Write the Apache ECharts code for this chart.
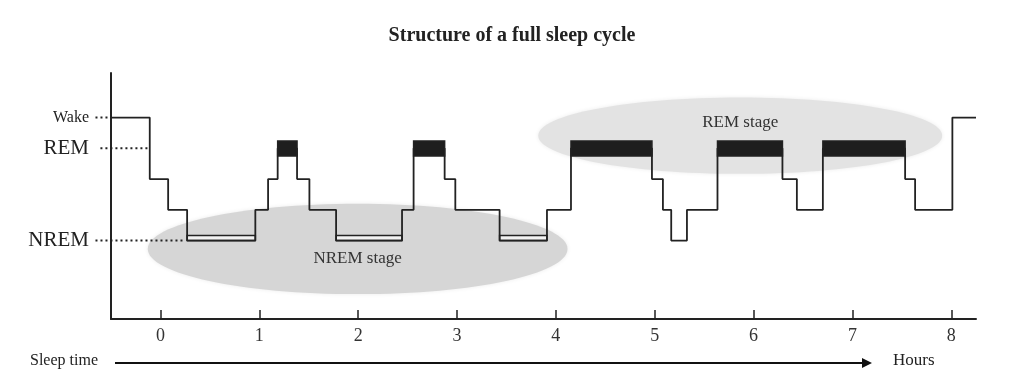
<!DOCTYPE html>
<html><head><meta charset="utf-8">
<script src="https://cdn.jsdelivr.net/npm/echarts@6/dist/echarts.min.js"></script>
<style>html,body{margin:0;padding:0;background:#fff}#c{width:1024px;height:386px}</style>
</head><body><div id="c"></div>
<script>
// Stage levels: 0 = N3 (deep NREM), 1 = N2, 2 = N1, 3 = REM, 4 = Wake
const stageNames = ['N3', 'N2', 'N1', 'REM', 'Wake'];
const hourTicks = [0, 1, 2, 3, 4, 5, 6, 7, 8];
const yLabelLevels = [0, 3, 4];
const yLabelTexts = ['NREM', 'REM', 'Wake'];
// start time (hours) of each hypnogram segment
const segmentStart = [-0.5, -0.108, 0.078, 0.27, 0.96, 1.089, 1.186, 1.382, 1.507, 1.777,
  2.444, 2.561, 2.875, 2.983, 3.431, 3.910, 4.153, 4.972, 5.083, 5.167,
  5.326, 5.635, 6.292, 6.438, 6.701, 7.533, 7.634, 8.011, 8.25];
// stage level of each segment
const segmentLevel = [4, 2, 1, 0, 1, 2, 3, 2, 1, 0,
  1, 3, 2, 1, 0, 1, 3, 2, 1, 0,
  1, 3, 2, 1, 3, 2, 1, 4, 4];
// deep-sleep periods drawn with the double line
const deepBandStart = [0.27, 1.777, 3.431];
const deepBandEnd = [0.96, 2.444, 3.910];
// shaded stage regions: labels, centre (hours, level), radii (hours, levels)
const regionLabels = ['NREM stage', 'REM stage'];
const regionCenter = [[1.995, -0.27], [5.865, 3.41]];
const regionRadius = [[2.123, 1.47], [2.043, 1.24]];

const SERIF = '"Liberation Serif", "DejaVu Serif", serif';
const INK = '#222';

const stepData = segmentStart.map((t, i) => [t, segmentLevel[i]]);
const remBands = [];
for (let i = 0; i < segmentStart.length - 1; i++) {
  if (segmentLevel[i] === 3) remBands.push([segmentStart[i], segmentStart[i + 1]]);
}
const deepBands = deepBandStart.map((s, i) => [s, deepBandEnd[i]]);
const regions = regionLabels.map((n, i) => [regionCenter[i][0], regionCenter[i][1], regionRadius[i][0], regionRadius[i][1], i]);
// dotted guide lines from the level labels: [fromHour, toHour, level]
const guides = [[-0.657, -0.5, 4], [-0.607, -0.121, 3], [-0.657, 0.253, 0]];

const chart = echarts.init(document.getElementById('c'), null, {renderer: 'canvas'});
chart.setOption({
  backgroundColor: '#ffffff',
  animation: false,
  title: {
    text: 'Structure of a full sleep cycle', left: 'center', top: 21,
    textStyle: {fontFamily: SERIF, fontWeight: 'bold', fontSize: 20, color: INK}
  },
  grid: {left: 111, top: 73, width: 865, height: 246},
  xAxis: {
    type: 'value', min: -0.5, max: 8.25,
    axisLine: {show: true, onZero: false, lineStyle: {color: INK, width: 2}},
    axisTick: {show: true, inside: true, length: 9, customValues: hourTicks, lineStyle: {color: INK, width: 1.5}},
    axisLabel: {customValues: hourTicks, fontFamily: SERIF, fontSize: 18, color: '#333', margin: 8},
    splitLine: {show: false}
  },
  yAxis: {
    type: 'value', min: -2.55, max: 5.45,
    axisLine: {show: true, onZero: false, lineStyle: {color: INK, width: 2}},
    axisTick: {show: false},
    splitLine: {show: false},
    axisLabel: {
      customValues: yLabelLevels, margin: 22,
      formatter: v => {
        const t = yLabelTexts[yLabelLevels.indexOf(Math.round(v))];
        return Math.round(v) === 4 ? '{s|' + t + '}' : '{b|' + t + '}';
      },
      rich: {
        s: {fontFamily: SERIF, fontSize: 16, color: INK},
        b: {fontFamily: SERIF, fontSize: 21, color: INK}
      }
    }
  },
  series: [
    {
      type: 'custom', name: 'regions', z: 1, clip: false,
      data: regions,
      renderItem: (params, api) => {
        const c = api.coord([api.value(0), api.value(1)]);
        const s = api.size([api.value(2), api.value(3)]);
        const idx = api.value(4);
        const fill = idx === 0 ? '#d6d6d6' : '#e3e3e3';
        return {type: 'ellipse', shape: {cx: c[0], cy: c[1], rx: s[0], ry: s[1]},
          style: {fill: fill, shadowBlur: 4, shadowColor: 'rgba(0,0,0,0.08)'}};
      }
    },
    {
      type: 'custom', name: 'regionText', z: 2, clip: false,
      data: regions,
      renderItem: (params, api) => {
        const idx = api.value(4);
        const c = api.coord([api.value(0), api.value(1) + (idx === 0 ? -0.3 : 0.43)]);
        return {type: 'text', x: c[0], y: c[1],
          style: {text: regionLabels[idx], fill: '#333', font: (idx === 0 ? '17px ' : '17px ') + SERIF,
            align: 'center', verticalAlign: 'middle'}};
      }
    },
    {
      type: 'custom', name: 'guides', z: 3, clip: false,
      data: guides,
      renderItem: (params, api) => {
        const a = api.coord([api.value(0), api.value(2)]);
        const b = api.coord([api.value(1), api.value(2)]);
        return {type: 'line', shape: {x1: a[0], y1: a[1], x2: b[0], y2: b[1]},
          style: {stroke: INK, lineWidth: 2, lineDash: [2, 3]}};
      }
    },
    {
      type: 'custom', name: 'deep', z: 4,
      data: deepBands,
      renderItem: (params, api) => {
        const a = api.coord([api.value(0), 0.165]);
        const b = api.coord([api.value(1), 0]);
        return {type: 'rect', shape: {x: a[0], y: a[1], width: b[0] - a[0], height: b[1] - a[1]},
          style: {fill: '#f2f2f2', stroke: INK, lineWidth: 1.5}};
      }
    },
    {
      type: 'line', name: 'stage', z: 5, step: 'end', symbol: 'none',
      data: stepData,
      lineStyle: {color: INK, width: 1.8}
    },
    {
      type: 'custom', name: 'rem', z: 6,
      data: remBands,
      renderItem: (params, api) => {
        const a = api.coord([api.value(0), 3.24]);
        const b = api.coord([api.value(1), 2.75]);
        return {type: 'rect', shape: {x: a[0], y: a[1], width: b[0] - a[0], height: b[1] - a[1]},
          style: {fill: '#1e1e1e', stroke: INK, lineWidth: 1.5}};
      }
    }
  ],
  graphic: [
    {type: 'text', left: 30, top: 353, style: {text: 'Sleep time', font: '16px ' + SERIF, fill: INK}},
    {type: 'line', shape: {x1: 115, y1: 363, x2: 864, y2: 363}, style: {stroke: '#111', lineWidth: 2.2}},
    {type: 'polygon', shape: {points: [[862, 358], [872, 363], [862, 368]]}, style: {fill: '#111'}},
    {type: 'text', left: 893, top: 352, style: {text: 'Hours', font: '17px ' + SERIF, fill: INK}}
  ]
});
</script></body></html>
